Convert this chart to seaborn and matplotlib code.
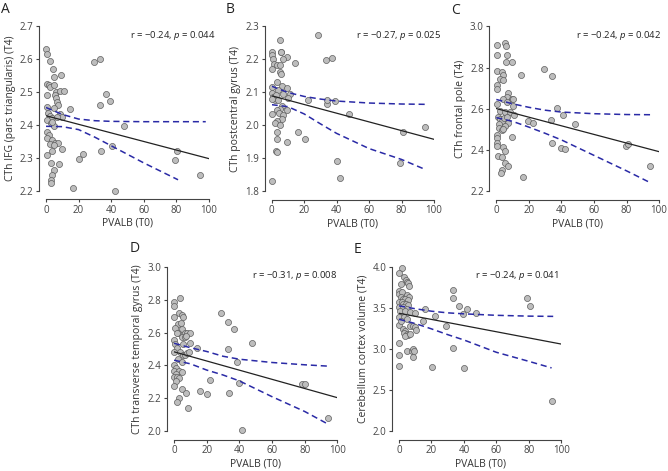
import seaborn as sns
import matplotlib.pyplot as plt

sns.set_theme(style="ticks")
plt.rcParams["font.family"] = ["Open Sans", "DejaVu Sans"]
plt.rcParams["mathtext.fontset"] = "custom"
plt.rcParams["mathtext.rm"] = "Open Sans"
plt.rcParams["mathtext.it"] = "Open Sans:italic"

x_label = "PVALB (T0)"
x_ticks = [0, 20, 40, 60, 80, 100]
fit_x = [0, 100]

# ---- A: IFG pars triangularis
a_x = [0, 0.6, 2.2, 4.3, 9.2, 0.6, 1.6, 2.2, 5.0, 5.1, 6.3, 8.8, 10.8, 0.6, 5.7, 6.3,
       6.7, 7.1, 0.6, 14.5, 5.1, 1.2, 8.8, 2.7, 9.6, 3.9, 6.7, 0.6, 3.1, 4.7, 3.7, 0.6,
       1.6, 0.6, 3.7, 5.7, 2.2, 7.1, 4.7, 10.0, 3.7, 0.6, 3.1, 7.8, 4.7, 3.9, 3.3, 3.3,
       16.5, 42.2, 20.4, 22.7, 29.2, 33.3, 33.3, 36.9, 39.4, 34.0, 40.2, 48.0, 79.2,
       80.6, 94.5]
a_y = [2.63, 2.615, 2.594, 2.57, 2.553, 2.525, 2.522, 2.514, 2.545, 2.52, 2.50, 2.503,
       2.503, 2.49, 2.49, 2.483, 2.47, 2.46, 2.454, 2.448, 2.45, 2.436, 2.434, 2.426,
       2.424, 2.42, 2.423, 2.416, 2.406, 2.396, 2.41, 2.38, 2.37, 2.36, 2.355, 2.345,
       2.342, 2.345, 2.338, 2.328, 2.32, 2.31, 2.285, 2.282, 2.265, 2.247, 2.232, 2.225,
       2.21, 2.20, 2.297, 2.312, 2.59, 2.60, 2.46, 2.494, 2.473, 2.321, 2.337, 2.398,
       2.294, 2.32, 2.249]
a_fit = [2.428, 2.298]
a_up_x = [0, 10, 20, 30, 40, 60, 80, 98]
a_up_y = [2.453, 2.432, 2.418, 2.413, 2.411, 2.41, 2.41, 2.41]
a_lo_x = [0, 10, 20, 30, 40, 60, 81]
a_lo_y = [2.396, 2.395, 2.386, 2.363, 2.337, 2.285, 2.234]

# ---- B: postcentral gyrus
b_x = [28.3, 5.1, 0, 0.4, 5.5, 5.8, 9.2, 7.2, 1.0, 1.4, 0, 3.1, 5.1, 5.1, 5.5, 14.6,
       33.5, 37.2, 3.5, 0, 6.2, 9.2, 4.1, 0, 1.0, 2.7, 6.8, 11.3, 2.0, 4.1, 10.3, 22.6,
       0, 6.2, 5.1, 3.1, 4.7, 9.2, 0, 6.8, 6.2, 3.1, 2.0, 5.1, 3.5, 3.1, 9.2, 2.7, 3.5,
       0, 16.4, 20.5, 33.9, 34.3, 39.0, 47.8, 40.0, 42.1, 79.0, 80.7, 94.5]
b_y = [2.275, 2.258, 2.222, 2.215, 2.222, 2.222, 2.207, 2.202, 2.20, 2.187, 2.172,
       2.182, 2.182, 2.162, 2.157, 2.19, 2.197, 2.203, 2.132, 2.117, 2.119, 2.115,
       2.107, 2.097, 2.087, 2.092, 2.095, 2.095, 2.077, 2.077, 2.082, 2.077, 2.08,
       2.058, 2.051, 2.048, 2.038, 2.048, 2.034, 2.031, 2.021, 2.014, 2.008, 2.001,
       1.981, 1.959, 1.951, 1.923, 1.919, 1.833, 1.98, 1.96, 2.065, 2.077, 2.074,
       2.036, 1.893, 1.84, 1.885, 1.981, 1.996]
b_fit = [2.09, 1.958]
b_up_x = [0, 10, 20, 30, 40, 60, 80, 95]
b_up_y = [2.119, 2.10, 2.088, 2.08, 2.074, 2.068, 2.065, 2.064]
b_lo_x = [0, 10, 20, 30, 40, 60, 80, 93]
b_lo_y = [2.063, 2.057, 2.035, 2.005, 1.976, 1.93, 1.897, 1.870]

# ---- C: frontal pole
c_x = [0.6, 0.6, 5.3, 5.7, 6.4, 5.7, 9.4, 0.6, 3.3, 3.9, 2.3, 4.3, 0.6, 0.6, 15.0, 29.3,
       34.0, 7.4, 6.4, 4.3, 9.4, 10.0, 0.6, 6.4, 10.5, 2.3, 5.3, 8.4, 10.9, 37.1, 40.8,
       1.2, 2.3, 3.3, 1.8, 4.7, 6.4, 7.4, 5.3, 1.8, 3.3, 4.3, 19.7, 22.7, 33.6, 48.4,
       0.6, 0.6, 9.4, 0.6, 0.6, 4.3, 5.3, 1.2, 3.5, 34.4, 39.5, 42.4, 5.3, 6.9, 3.7,
       2.9, 16.6, 79.5, 81.1, 94.5]
c_y = [2.908, 2.86, 2.919, 2.903, 2.86, 2.828, 2.828, 2.784, 2.779, 2.763, 2.747,
       2.739, 2.715, 2.699, 2.763, 2.796, 2.758, 2.675, 2.659, 2.646, 2.65, 2.646,
       2.622, 2.634, 2.613, 2.591, 2.586, 2.586, 2.57, 2.607, 2.57, 2.562, 2.549, 2.543,
       2.527, 2.554, 2.562, 2.533, 2.519, 2.51, 2.50, 2.505, 2.543, 2.53, 2.546, 2.527,
       2.473, 2.46, 2.465, 2.436, 2.422, 2.414, 2.398, 2.374, 2.369, 2.433, 2.409,
       2.404, 2.337, 2.325, 2.304, 2.288, 2.269, 2.42, 2.43, 2.325]
c_fit = [2.602, 2.393]
c_up_x = [0, 10, 20, 30, 40, 60, 80, 96]
c_up_y = [2.646, 2.625, 2.608, 2.594, 2.585, 2.577, 2.573, 2.572]
c_lo_x = [0, 10, 20, 30, 40, 60, 80, 94]
c_lo_y = [2.558, 2.54, 2.512, 2.482, 2.45, 2.375, 2.30, 2.245]

# ---- D: transverse temporal gyrus
d_x = [0, 0, 3.7, 3.3, 4.7, 5.7, 0, 2.7, 4.1, 0.6, 4.7, 2.7, 1.6, 6.7, 8.2, 9.8, 4.7,
       6.7, 7.3, 0, 0.6, 5.3, 9.8, 1.6, 14.3, 0, 3.7, 5.7, 6.7, 8.2, 9.4, 2.7, 4.7, 0,
       1.2, 0, 3.1, 4.7, 1.2, 0, 2.0, 3.3, 1.2, 0, 5.1, 7.3, 3.3, 1.6, 8.8, 28.6, 33.1,
       36.7, 33.1, 38.8, 47.6, 15.9, 22.0, 20.4, 33.9, 39.8, 41.8, 78.4, 80.2, 94.1]
d_y = [2.788, 2.764, 2.808, 2.721, 2.705, 2.697, 2.693, 2.65, 2.66, 2.626, 2.62,
       2.596, 2.596, 2.60, 2.596, 2.596, 2.574, 2.574, 2.58, 2.556, 2.529, 2.529,
       2.535, 2.509, 2.505, 2.479, 2.479, 2.465, 2.465, 2.475, 2.479, 2.438, 2.422,
       2.402, 2.382, 2.368, 2.368, 2.362, 2.347, 2.331, 2.331, 2.321, 2.307, 2.273,
       2.257, 2.23, 2.202, 2.176, 2.139, 2.717, 2.667, 2.622, 2.503, 2.424, 2.539,
       2.242, 2.313, 2.226, 2.23, 2.293, 2.01, 2.287, 2.287, 2.083]
d_fit = [2.483, 2.204]
d_up_x = [0, 10, 20, 30, 40, 60, 80, 94]
d_up_y = [2.535, 2.508, 2.485, 2.456, 2.438, 2.418, 2.404, 2.396]
d_lo_x = [0, 10, 20, 30, 40, 60, 80, 93]
d_lo_y = [2.432, 2.41, 2.372, 2.342, 2.306, 2.21, 2.12, 2.05]

# ---- E: cerebellum cortex volume
e_x = [1.6, 0, 3.1, 4.3, 4.7, 5.7, 1.0, 6.2, 0, 0, 1.6, 5.1, 6.2, 1.0, 2.7, 3.7, 5.7,
       0, 1.6, 2.7, 4.3, 5.7, 0, 2.7, 5.1, 0.6, 3.7, 6.8, 9.9, 0, 3.1, 4.7, 0, 1.0, 6.8,
       8.8, 9.9, 2.7, 3.7, 3.1, 4.7, 5.7, 3.7, 6.8, 10.5, 0, 5.1, 7.8, 8.8, 9.2, 0, 8.8,
       0, 14.6, 16.0, 22.2, 29.0, 20.1, 33.5, 33.1, 37.0, 41.7, 39.2, 47.4, 33.1, 40.0,
       79.1, 80.7, 94.5]
e_y = [3.984, 3.93, 3.879, 3.842, 3.81, 3.798, 3.789, 3.761, 3.709, 3.668, 3.688,
       3.656, 3.636, 3.628, 3.607, 3.607, 3.595, 3.567, 3.567, 3.547, 3.547, 3.538,
       3.506, 3.514, 3.486, 3.457, 3.457, 3.445, 3.437, 3.385, 3.393, 3.364, 3.296,
       3.344, 3.283, 3.283, 3.263, 3.243, 3.223, 3.19, 3.182, 3.17, 3.162, 3.18, 3.235,
       3.069, 2.98, 2.972, 3.0, 2.972, 2.931, 2.899, 2.798, 3.344, 3.486, 3.405, 3.283,
       2.777, 3.717, 3.615, 3.518, 3.486, 3.425, 3.437, 3.008, 2.765, 3.619, 3.526,
       2.364]
e_fit = [3.435, 3.06]
e_up_x = [0, 10, 20, 30, 40, 60, 80, 95]
e_up_y = [3.525, 3.49, 3.46, 3.44, 3.428, 3.41, 3.40, 3.397]
e_lo_x = [0, 10, 20, 30, 40, 60, 80, 94]
e_lo_y = [3.362, 3.31, 3.245, 3.175, 3.11, 2.96, 2.85, 2.77]

panels = [
    dict(letter="A", x=a_x, y=a_y, fit=a_fit, up=(a_up_x, a_up_y), lo=(a_lo_x, a_lo_y),
         ylabel="CTh IFG (pars triangularis) (T4)",
         yticks=[2.2, 2.3, 2.4, 2.5, 2.6, 2.7], stat="r = \u22120.24, $p$ = 0.044"),
    dict(letter="B", x=b_x, y=b_y, fit=b_fit, up=(b_up_x, b_up_y), lo=(b_lo_x, b_lo_y),
         ylabel="CTh postcentral gyrus (T4)",
         yticks=[1.8, 1.9, 2.0, 2.1, 2.2, 2.3], stat="r = \u22120.27, $p$ = 0.025"),
    dict(letter="C", x=c_x, y=c_y, fit=c_fit, up=(c_up_x, c_up_y), lo=(c_lo_x, c_lo_y),
         ylabel="CTh frontal pole (T4)",
         yticks=[2.2, 2.4, 2.6, 2.8, 3.0], stat="r = \u22120.24, $p$ = 0.042"),
    dict(letter="D", x=d_x, y=d_y, fit=d_fit, up=(d_up_x, d_up_y), lo=(d_lo_x, d_lo_y),
         ylabel="CTh transverse temporal gyrus (T4)",
         yticks=[2.0, 2.2, 2.4, 2.6, 2.8, 3.0], stat="r = \u22120.31, $p$ = 0.008"),
    dict(letter="E", x=e_x, y=e_y, fit=e_fit, up=(e_up_x, e_up_y), lo=(e_lo_x, e_lo_y),
         ylabel="Cerebellum cortex volume (T4)",
         yticks=[2.0, 2.5, 3.0, 3.5, 4.0], stat="r = \u22120.24, $p$ = 0.041"),
]

# layout: axes rect (fig fraction), letter position, stat text x (axes fraction)
rects = [
    [0.0689, 0.5945, 0.244, 0.3503],
    [0.4067, 0.5935, 0.243, 0.3503],
    [0.7430, 0.5935, 0.2436, 0.3503],
    [0.2605, 0.0845, 0.2445, 0.3490],
    [0.5973, 0.0845, 0.2430, 0.3490],
]
letter_pos = [(0.002, 0.995), (0.338, 0.995), (0.676, 0.993), (0.194, 0.488), (0.530, 0.486)]
stat_x = [1.04, 1.045, 1.012, 1.0, 0.985]

fig = plt.figure(figsize=(6.68, 4.71), dpi=100)
fig.patch.set_facecolor("white")

for p, rect, lp, sx in zip(panels, rects, letter_pos, stat_x):
    ax = fig.add_axes(rect)
    sns.scatterplot(x=p["x"], y=p["y"], ax=ax, s=19, color="#bdbdbd",
                    edgecolor="#5e5e5e", linewidth=0.5, clip_on=False, zorder=3)
    sns.lineplot(x=fit_x, y=p["fit"], ax=ax, color="#222222", lw=0.9,
                 estimator=None, sort=False, zorder=4)
    for xs, ys in (p["up"], p["lo"]):
        sns.lineplot(x=xs, y=ys, ax=ax, color="#2a2aa6", lw=1.1, linestyle=(0, (4, 2.5)),
                     estimator=None, sort=False, zorder=5)
    yt = p["yticks"]
    ax.set_xlim(0, 100)
    ax.set_ylim(yt[0], yt[-1])
    ax.set_xticks(x_ticks)
    ax.set_yticks(yt)
    ax.set_yticklabels([f"{v:.1f}" for v in yt])
    sns.despine(ax=ax)
    ax.spines["left"].set_position(("outward", 5))
    ax.spines["bottom"].set_position(("outward", 6))
    for s in ("left", "bottom"):
        ax.spines[s].set_color("#444444")
        ax.spines[s].set_linewidth(0.8)
    ax.tick_params(length=2.5, width=0.8, color="#444444", labelsize=7,
                   labelcolor="#444444", pad=1.5)
    ax.set_xlabel(x_label, fontsize=7.5, color="#333333", labelpad=1.5)
    ax.set_ylabel(p["ylabel"], fontsize=7.5, color="#333333", labelpad=3)
    ax.text(sx, 0.945, p["stat"], transform=ax.transAxes, ha="right", va="center",
            fontsize=6.8, color="#222222")
    fig.text(lp[0], lp[1], p["letter"], fontsize=10, color="#222222", ha="left", va="top")

fig.savefig("out.png", dpi=100)
